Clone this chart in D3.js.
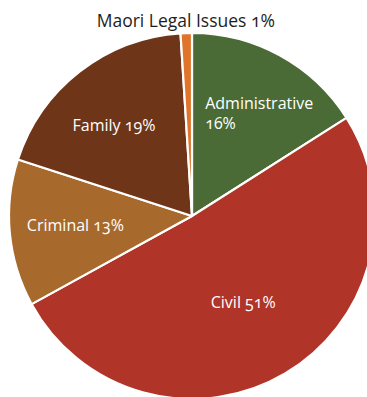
<!DOCTYPE html>
<html>
<head>
<meta charset="utf-8">
<script src="https://cdn.jsdelivr.net/npm/d3@7"></script>
<style>
  html, body { margin: 0; padding: 0; background: #fff; }
  svg { display: block; }
  text { font-family: "Open Sans", "Noto Sans", sans-serif; font-size: 16px; font-variant-numeric: oldstyle-nums; }
</style>
</head>
<body>
<svg id="chart" width="367" height="397"></svg>
<script>
// Share of cases by area of law
const categories = ["Administrative", "Civil", "Criminal", "Family", "Maori Legal Issues"];
const shares = [16, 51, 13, 19, 1];

const width = 367, height = 397;
const cx = 192, cy = 216, radius = 183;

const sliceColors = ["#4a6b35", "#b03427", "#a86a2c", "#6f3518", "#e0742a"];
// label layout: radius as a fraction of the pie radius, plus a small pixel nudge
const labelLayout = [
  { r: 0.66, dx: 0, dy: 0 },
  { r: 0.55, dx: 0, dy: 0 },
  { r: 0.64, dx: 0, dy: -2 },
  { r: 0.66, dx: -4, dy: 5 },
  { r: 1.07, dx: 0, dy: 1 }
];

const svg = d3.select("#chart");
const g = svg.append("g").attr("transform", `translate(${cx},${cy})`);

const data = categories.map((c, i) => ({ name: c, value: shares[i], color: sliceColors[i], layout: labelLayout[i] }));

const pie = d3.pie().value(d => d.value).sort(null);
const arc = d3.arc().innerRadius(0).outerRadius(radius);
const arcs = pie(data);

g.selectAll("path.slice")
  .data(arcs)
  .join("path")
  .attr("class", "slice")
  .attr("d", arc)
  .attr("fill", d => d.data.color)
  .attr("stroke", "#fff")
  .attr("stroke-width", 2.2)
  .attr("stroke-linejoin", "round");

const labels = g.selectAll("g.label")
  .data(arcs)
  .join("g")
  .attr("class", "label")
  .attr("transform", d => {
    const L = d.data.layout;
    const r = radius * L.r;
    const la = d3.arc().innerRadius(r).outerRadius(r);
    const [x, y] = la.centroid(d);
    return `translate(${x + L.dx},${y + L.dy})`;
  });

labels.each(function(d) {
  const sel = d3.select(this);
  if (d.data.name === "Administrative") {
    // name and share on two left-aligned lines
    const t = sel.append("text").attr("fill", "#fff").attr("text-anchor", "start");
    t.append("tspan").attr("x", -45).attr("y", -1).text(d.data.name);
    t.append("tspan").attr("x", -45).attr("y", 19).text(`${d.data.value}%`);
  } else {
    const outside = d.data.name === "Maori Legal Issues";
    sel.append("text")
      .attr("fill", outside ? "#1e1e1e" : "#fff")
      .attr("text-anchor", "middle")
      .attr("dy", "0.35em")
      .style("font-size", outside ? "17.5px" : null)
      .text(`${d.data.name} ${d.data.value}%`);
  }
});
</script>
</body>
</html>
